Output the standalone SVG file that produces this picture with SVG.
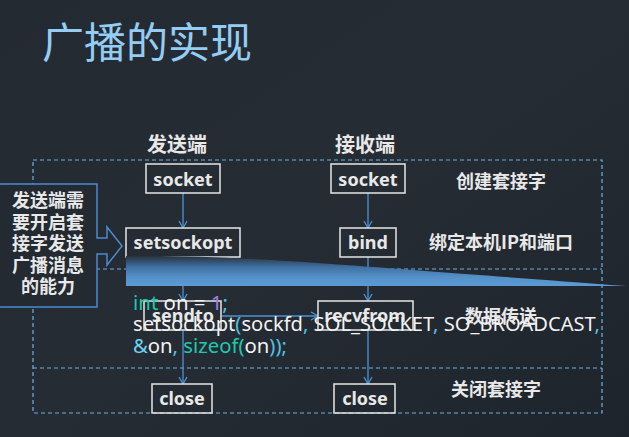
<svg xmlns="http://www.w3.org/2000/svg" width="629" height="437" viewBox="0 0 629 437">
<defs>
<linearGradient id="bg" x1="0" y1="0" x2="1" y2="1">
<stop offset="0" stop-color="#232a32"/>
<stop offset="0.5" stop-color="#252c34"/>
<stop offset="1" stop-color="#1e242b"/>
</linearGradient>
<linearGradient id="ribbon" gradientUnits="userSpaceOnUse" x1="0" y1="256" x2="0" y2="286">
<stop offset="0" stop-color="#27313c"/>
<stop offset="0.35" stop-color="#3f6e9e"/>
<stop offset="0.7" stop-color="#5590c8"/>
<stop offset="1" stop-color="#5b9bd5"/>
</linearGradient>
<marker id="arr" viewBox="0 0 10 10" refX="10" refY="5" markerWidth="10" markerHeight="10" markerUnits="userSpaceOnUse" orient="auto">
<path d="M3,1 L10,5 L3,9" fill="none" stroke="#4f93d3" stroke-width="1.3"/>
</marker>
<style>
.box{fill:none;stroke:#e6e6e6;stroke-width:1.5}
.lbl{font-family:"Noto Sans","Noto Sans CJK SC",sans-serif;font-weight:bold;font-size:18px;fill:#e8e8e8;text-anchor:middle;dominant-baseline:central}
.cjk{font-family:"Noto Sans CJK SC","Noto Sans",sans-serif;font-weight:bold;font-size:18px;fill:#e8e8e8;text-anchor:middle;dominant-baseline:central}
.dash{fill:none;stroke:#6fb0e6;stroke-width:1.2;stroke-dasharray:4 3}
.con{fill:none;stroke:#4f93d3;stroke-width:1.3;marker-end:url(#arr)}
.code{font-family:"Noto Sans","Noto Sans CJK SC",sans-serif;font-size:20px;fill:#f2f2f2}
.kw{fill:#1fc9ad}
.pn{fill:#4fc3e6}
.num{fill:#a27fe0}
.amp{fill:#6fd0f2}
</style>
</defs>
<rect x="0" y="0" width="629" height="437" fill="url(#bg)"/>

<text x="42" y="58" font-family="'Noto Sans CJK SC',sans-serif" font-size="42" fill="#94cdf4">广播的实现</text>

<text class="cjk" x="177" y="143" font-size="20" style="font-size:20px">发送端</text>
<text class="cjk" x="365" y="143" style="font-size:20px">接收端</text>

<g id="frame">
<rect class="dash" x="33" y="160" width="569" height="253"/>
<line class="dash" x1="33" y1="269" x2="602" y2="269"/>
<line class="dash" x1="33" y1="368" x2="602" y2="368"/>
</g>

<g id="connectors">
<line class="con" x1="183" y1="193" x2="183" y2="228"/>
<line class="con" x1="183" y1="257" x2="183" y2="301"/>
<line class="con" x1="183" y1="330" x2="183" y2="384"/>
<line class="con" x1="368" y1="193" x2="368" y2="228"/>
<line class="con" x1="368" y1="257" x2="368" y2="301"/>
<line class="con" x1="368" y1="330" x2="368" y2="384"/>
<line class="con" x1="222" y1="316" x2="318" y2="316"/>
</g>

<g id="send-socket"><rect class="box" x="146" y="164" width="74" height="29"/><text class="lbl" x="183" y="178.5">socket</text></g>
<g id="recv-socket"><rect class="box" x="331" y="164" width="74" height="29"/><text class="lbl" x="368" y="178.5">socket</text></g>
<g id="setsockopt"><rect class="box" x="126" y="228" width="114" height="29"/><text class="lbl" x="183" y="242">setsockopt</text></g>
<g id="bind"><rect class="box" x="340" y="228" width="56" height="29"/><text class="lbl" x="368" y="242">bind</text></g>
<g id="sendto"><rect class="box" x="144" y="301" width="77" height="29"/><text class="lbl" x="183" y="315">sendto</text></g>
<g id="recvfrom"><rect class="box" x="318" y="301" width="95" height="29"/><text class="lbl" x="365" y="315">recvfrom</text></g>
<g id="send-close"><rect class="box" x="152" y="384" width="60" height="29"/><text class="lbl" x="182" y="397.5">close</text></g>
<g id="recv-close"><rect class="box" x="334" y="384" width="61" height="29"/><text class="lbl" x="365" y="397.5">close</text></g>

<g id="labels">
<text class="cjk" x="501" y="179.5">创建套接字</text>
<text class="cjk" x="501" y="241">绑定本机IP和端口</text>
<text class="cjk" x="501" y="315">数据传送</text>
<text class="cjk" x="496" y="388">关闭套接字</text>
</g>

<g id="callout">
<path d="M-2,184 L97,184 L97,238 L107,238 L107,227 L122,246 L107,265 L107,254 L97,254 L97,307 L-2,307 Z" fill="#232a32" stroke="#4a8ad0" stroke-width="1.5"/>
<text class="cjk" x="48" y="199">发送端需</text>
<text class="cjk" x="48" y="220.5">要开启套</text>
<text class="cjk" x="48" y="242">接字发送</text>
<text class="cjk" x="48" y="263.5">广播消息</text>
<text class="cjk" x="48" y="285">的能力</text>
</g>

<path id="ribbon-shape" d="M126,256 C240,255 300,262 627,286 L126,286 Z" fill="url(#ribbon)"/>

<g id="code">
<text class="code" x="133" y="310" textLength="95" lengthAdjust="spacingAndGlyphs"><tspan class="kw">int</tspan> on = <tspan class="num">1</tspan><tspan class="pn">;</tspan></text>
<text class="code" x="133" y="331" textLength="467" lengthAdjust="spacingAndGlyphs">setsockopt<tspan class="pn">(</tspan>sockfd<tspan class="pn">,</tspan> SOL_SOCKET<tspan class="pn">,</tspan> SO_BROADCAST<tspan class="pn">,</tspan></text>
<text class="code" x="133" y="353" textLength="154" lengthAdjust="spacingAndGlyphs"><tspan class="amp">&amp;</tspan>on<tspan class="pn">,</tspan> <tspan class="kw">sizeof(</tspan>on<tspan class="pn">));</tspan></text>
</g>
</svg>
